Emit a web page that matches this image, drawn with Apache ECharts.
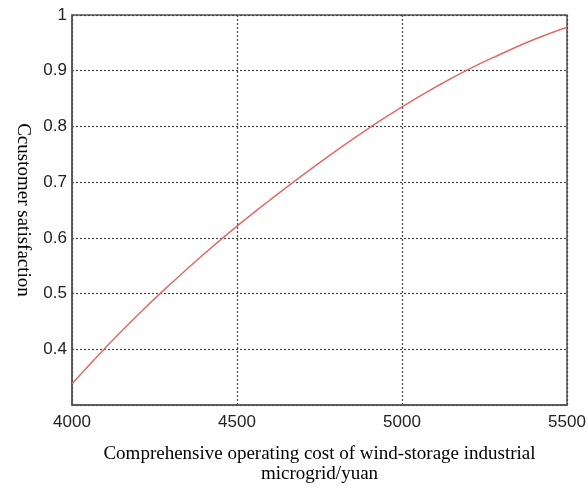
<!DOCTYPE html>
<html>
<head>
<meta charset="utf-8">
<script src="https://cdn.jsdelivr.net/npm/echarts@6/dist/echarts.min.js"></script>
<style>html,body{margin:0;padding:0;background:#fff;}#c{width:587px;height:487px;}</style>
</head>
<body>
<div id="c"></div>
<script>
var costs = [4000, 4100, 4200, 4300, 4400, 4500, 4600, 4700, 4800, 4900, 5000, 5100, 5200, 5300, 5400, 5500];
var satisfaction = [0.338, 0.402, 0.462, 0.518, 0.571, 0.621, 0.668, 0.713, 0.756, 0.797, 0.835, 0.870, 0.902, 0.930, 0.956, 0.978];
var xTitle = 'Comprehensive operating cost of wind-storage industrial\nmicrogrid/yuan';
var yTitle = 'Ccustomer satisfaction';

var chart = echarts.init(document.getElementById('c'));
var data = costs.map(function (c, i) { return [c, satisfaction[i]]; });
chart.setOption({
  animation: false,
  grid: { left: 72, right: 20, top: 15, bottom: 82, outerBoundsMode: 'none', containLabel: false, show: true, borderColor: '#555', borderWidth: 1.5, backgroundColor: 'transparent' },
  xAxis: {
    type: 'value', min: 4000, max: 5500, interval: 500,
    name: xTitle, nameLocation: 'middle', nameGap: 39,
    nameTextStyle: { fontFamily: 'Liberation Serif', fontSize: 19, color: '#000', lineHeight: 20 },
    axisLine: { show: true, lineStyle: { color: '#555', width: 1.5 } },
    axisTick: { show: false },
    axisLabel: { fontFamily: 'Liberation Sans', fontSize: 17, color: '#222', margin: 9, formatter: function (v) { return String(v); } },
    splitLine: { show: true, lineStyle: { color: '#444', type: [2, 2], width: 1.2 } }
  },
  yAxis: {
    type: 'value', min: 0.3, max: 1, interval: 0.1,
    name: yTitle, nameLocation: 'middle', nameGap: 38, nameRotate: -90,
    nameTextStyle: { fontFamily: 'Liberation Serif', fontSize: 19, color: '#000' },
    axisLine: { show: true, lineStyle: { color: '#555', width: 1.5 } },
    axisTick: { show: false },
    axisLabel: {
      fontFamily: 'Liberation Sans', fontSize: 17, color: '#222', margin: 5,
      formatter: function (v) { return Math.abs(v - 0.3) < 1e-6 ? '' : String(Math.round(v * 10) / 10); }
    },
    splitLine: { show: true, lineStyle: { color: '#444', type: [2, 2], width: 1.2 } }
  },
  series: [{
    type: 'line', data: data, smooth: true, showSymbol: false,
    lineStyle: { color: '#e06a6a', width: 1.5 }
  }]
});
</script>
</body>
</html>
